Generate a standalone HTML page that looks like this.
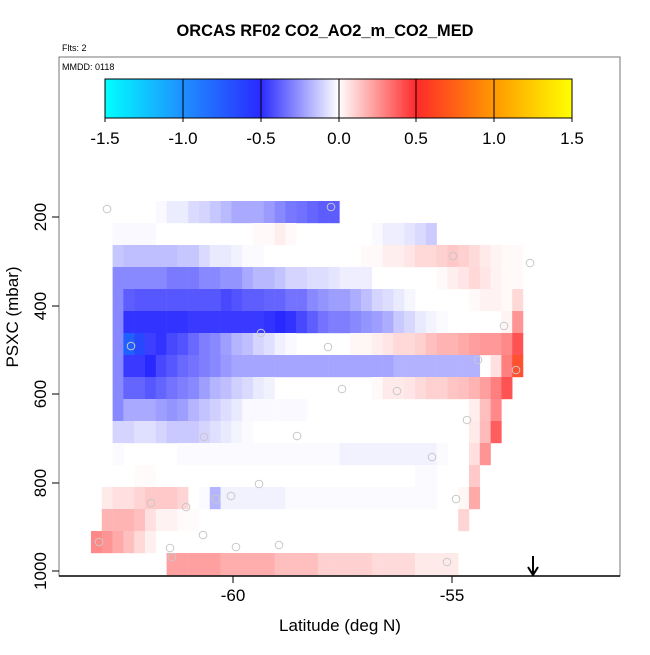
<!DOCTYPE html>
<html><head><meta charset="utf-8"><style>
body{margin:0;background:#fff;}
svg text{font-family:"Liberation Sans",sans-serif;}
</style></head><body>
<svg id="s" width="650" height="650" xmlns="http://www.w3.org/2000/svg">
<defs>
<linearGradient id="cb" x1="0" x2="1" y1="0" y2="0">
<stop offset="0" stop-color="#00ffff"/>
<stop offset="0.1667" stop-color="#1e90ff"/>
<stop offset="0.3333" stop-color="#2a2aff"/>
<stop offset="0.5" stop-color="#ffffff"/>
<stop offset="0.6667" stop-color="#ff2a2a"/>
<stop offset="0.8333" stop-color="#ff9900"/>
<stop offset="1" stop-color="#ffff00"/>
</linearGradient>
</defs>
<rect width="650" height="650" fill="#fff"/>
<g id="cells"></g>
<g id="circ" fill="none" stroke="#c8c8c8" stroke-width="1"></g>
<rect x="59" y="57" width="561" height="519" fill="none" stroke="#777" stroke-width="1"/>
<line x1="59" y1="576" x2="620" y2="576" stroke="#000" stroke-width="1.5"/>
<text x="325" y="36" font-size="16.4" font-weight="bold" text-anchor="middle">ORCAS RF02 CO2_AO2_m_CO2_MED</text>
<text x="62" y="51" font-size="9">Flts: 2</text>
<text x="62" y="70" font-size="9">MMDD: 0118</text>
<rect x="105" y="79" width="467" height="39" fill="url(#cb)" stroke="#000" stroke-width="1"/>
<g stroke="#000" stroke-width="1">
<line x1="183" y1="79" x2="183" y2="118"/><line x1="261" y1="79" x2="261" y2="118"/><line x1="339" y1="79" x2="339" y2="118"/><line x1="416" y1="79" x2="416" y2="118"/><line x1="494" y1="79" x2="494" y2="118"/>
<line x1="105" y1="118" x2="105" y2="122"/><line x1="183" y1="118" x2="183" y2="122"/><line x1="261" y1="118" x2="261" y2="122"/><line x1="339" y1="118" x2="339" y2="122"/><line x1="416" y1="118" x2="416" y2="122"/><line x1="494" y1="118" x2="494" y2="122"/><line x1="572" y1="118" x2="572" y2="122"/>
</g>
<g font-size="17" text-anchor="middle">
<text x="105" y="144">-1.5</text><text x="183" y="144">-1.0</text><text x="261" y="144">-0.5</text><text x="339" y="144">0.0</text><text x="416" y="144">0.5</text><text x="494" y="144">1.0</text><text x="572" y="144">1.5</text>
</g>
<g stroke="#000" stroke-width="1">
<line x1="233" y1="576" x2="233" y2="583"/><line x1="452" y1="576" x2="452" y2="583"/>
<line x1="59" y1="217" x2="52" y2="217"/><line x1="59" y1="306" x2="52" y2="306"/><line x1="59" y1="394" x2="52" y2="394"/><line x1="59" y1="483" x2="52" y2="483"/><line x1="59" y1="571" x2="52" y2="571"/>
</g>
<g font-size="17" text-anchor="middle">
<text x="233" y="601">-60</text><text x="452" y="601">-55</text>
<text transform="translate(46,217) rotate(-90)">200</text>
<text transform="translate(46,306) rotate(-90)">400</text>
<text transform="translate(46,394) rotate(-90)">600</text>
<text transform="translate(46,483) rotate(-90)">800</text>
<text transform="translate(46,571) rotate(-90)">1000</text>
<text x="340" y="631">Latitude (deg N)</text>
<text transform="translate(18,317) rotate(-90)">PSXC (mbar)</text>
</g>
<g stroke="#000" stroke-width="2" fill="none">
<line x1="533" y1="556" x2="533" y2="575"/>
<polyline points="528,567 533,575 538,567"/>
</g>
</svg>
<script>
var rows=[
[[6,.03,-1],[7,.09,-1],[8,.09,-1],[9,.17,-1],[10,.2,-1],[11,.26,-1],[12,.32,-1],[13,.4,-1],[14,.4,-1],[15,.4,-1],[16,.47,-1],[17,.55,-1],[18,.63,-1],[19,.66,-1],[20,.71,-1],[21,.76,-1],[22,.76,-1]],
[[2,.03,-1],[3,.03,-1],[4,.03,-1],[5,.03,-1],[15,.03,1],[16,.03,1],[17,.08,1],[18,.03,1],[26,.03,-1],[27,.08,-1],[28,.08,-1],[29,.12,-1],[30,.17,-1],[31,.24,-1]],
[[2,.26,-1],[3,.3,-1],[4,.3,-1],[5,.3,-1],[6,.3,-1],[7,.3,-1],[8,.26,-1],[9,.26,-1],[10,.17,-1],[11,.1,-1],[12,.1,-1],[13,.06,-1],[14,.02,-1],[15,.02,-1],[25,.03,1],[26,.03,1],[27,.08,1],[28,.08,1],[29,.12,1],[30,.18,1],[31,.18,1],[32,.22,1],[33,.26,1],[34,.22,1],[35,.17,1],[36,.1,1],[37,.05,1],[38,.03,1],[39,.03,1]],
[[2,.55,-1],[3,.55,-1],[4,.55,-1],[5,.55,-1],[6,.55,-1],[7,.62,-1],[8,.62,-1],[9,.62,-1],[10,.55,-1],[11,.55,-1],[12,.5,-1],[13,.5,-1],[14,.4,-1],[15,.33,-1],[16,.33,-1],[17,.28,-1],[18,.2,-1],[19,.2,-1],[20,.16,-1],[21,.16,-1],[22,.12,-1],[23,.08,-1],[24,.08,-1],[25,.08,-1],[32,.03,1],[33,.08,1],[34,.12,1],[35,.18,1],[36,.12,1],[37,.06,1],[38,.03,1],[39,.03,1]],
[[2,.55,-1],[3,.75,-1],[4,.78,-1],[5,.78,-1],[6,.78,-1],[7,.78,-1],[8,.78,-1],[9,.78,-1],[10,.78,-1],[11,.78,-1],[12,.85,-1],[13,.8,-1],[14,.75,-1],[15,.75,-1],[16,.72,-1],[17,.72,-1],[18,.65,-1],[19,.65,-1],[20,.55,-1],[21,.5,-1],[22,.45,-1],[23,.45,-1],[24,.38,-1],[25,.3,-1],[26,.2,-1],[27,.16,-1],[28,.1,-1],[29,.04,-1],[35,.03,1],[36,.06,1],[37,.06,1],[38,.03,1],[39,.18,1]],
[[2,.55,-1],[3,.95,-1],[4,.95,-1],[5,.95,-1],[6,.95,-1],[7,.95,-1],[8,.95,-1],[9,.92,-1],[10,.92,-1],[11,.92,-1],[12,.92,-1],[13,.92,-1],[14,.92,-1],[15,.92,-1],[16,.95,-1],[17,1,-1],[18,.95,-1],[19,.85,-1],[20,.75,-1],[21,.65,-1],[22,.6,-1],[23,.6,-1],[24,.55,-1],[25,.5,-1],[26,.45,-1],[27,.38,-1],[28,.25,-1],[29,.18,-1],[30,.1,-1],[31,.05,-1],[32,.02,-1],[38,.05,1],[39,.5,1]],
[[2,.55,-1],[3,'#2060ff'],[4,'#2848ff'],[5,.9,-1],[6,.95,-1],[7,.85,-1],[8,.8,-1],[9,.7,-1],[10,.6,-1],[11,.55,-1],[12,.45,-1],[13,.35,-1],[14,.3,-1],[15,.2,-1],[16,.15,-1],[17,.07,-1],[18,.03,-1],[24,.04,1],[25,.04,1],[26,.08,1],[27,.12,1],[28,.18,1],[29,.18,1],[30,.22,1],[31,.3,1],[32,.35,1],[33,.35,1],[34,.4,1],[35,.45,1],[36,.48,1],[37,.48,1],[38,.55,1],[39,.8,1]],
[[2,.55,-1],[3,.92,-1],[4,.92,-1],[5,1,-1],[6,.85,-1],[7,.78,-1],[8,.7,-1],[9,.65,-1],[10,.6,-1],[11,.55,-1],[12,.48,-1],[13,.42,-1],[14,.42,-1],[15,.42,-1],[16,.42,-1],[17,.42,-1],[18,.42,-1],[19,.42,-1],[20,.42,-1],[21,.42,-1],[22,.42,-1],[23,.42,-1],[24,.42,-1],[25,.42,-1],[26,.42,-1],[27,.42,-1],[28,.36,-1],[29,.36,-1],[30,.36,-1],[31,.36,-1],[32,.36,-1],[33,.36,-1],[34,.36,-1],[35,.36,-1],[37,.15,1],[38,.6,1],[39,'#ff5030']],
[[2,.55,-1],[3,.72,-1],[4,.72,-1],[5,.78,-1],[6,.72,-1],[7,.65,-1],[8,.6,-1],[9,.55,-1],[10,.45,-1],[11,.35,-1],[12,.3,-1],[13,.22,-1],[14,.17,-1],[15,.1,-1],[16,.06,-1],[26,.03,1],[27,.1,1],[28,.1,1],[29,.12,1],[30,.17,1],[31,.22,1],[32,.22,1],[33,.27,1],[34,.3,1],[35,.35,1],[36,.45,1],[37,.6,1],[38,.8,1]],
[[2,.55,-1],[3,.4,-1],[4,.4,-1],[5,.4,-1],[6,.45,-1],[7,.5,-1],[8,.45,-1],[9,.35,-1],[10,.28,-1],[11,.22,-1],[12,.16,-1],[13,.1,-1],[14,.03,-1],[15,.03,-1],[16,.03,-1],[17,.03,-1],[18,.03,-1],[19,.03,-1],[35,.08,1],[36,.3,1],[37,.55,1]],
[[2,.2,-1],[3,.2,-1],[4,.15,-1],[5,.15,-1],[6,.2,-1],[7,.25,-1],[8,.25,-1],[9,.25,-1],[10,.2,-1],[11,.15,-1],[12,.1,-1],[13,.05,-1],[14,.02,-1],[35,.1,1],[36,.32,1],[37,.75,1]],
[[2,.02,-1],[8,.02,-1],[9,.02,-1],[10,.02,-1],[11,.02,-1],[12,.02,-1],[13,.02,-1],[14,.02,-1],[15,.02,-1],[16,.02,-1],[17,.02,-1],[18,.02,-1],[19,.02,-1],[20,.02,-1],[21,.02,-1],[22,.02,-1],[23,.06,-1],[24,.06,-1],[25,.06,-1],[26,.06,-1],[27,.06,-1],[28,.06,-1],[29,.06,-1],[30,.06,-1],[31,.06,-1],[32,.02,-1],[35,.15,1],[36,.5,1]],
[[4,.02,1],[5,.02,1],[30,.02,-1],[31,.02,-1],[35,.25,1]],
[[1,.1,1],[2,.15,1],[3,.15,1],[4,.2,1],[5,.25,1],[6,.25,1],[7,.25,1],[8,.2,1],[10,.02,-1],[11,.35,-1],[12,.06,-1],[13,.06,-1],[14,.06,-1],[15,.06,-1],[16,.06,-1],[17,.06,-1],[18,.02,-1],[19,.02,-1],[20,.02,-1],[21,.02,-1],[22,.02,-1],[23,.02,-1],[24,.02,-1],[25,.02,-1],[26,.02,-1],[27,.02,-1],[28,.02,-1],[29,.02,-1],[30,.02,-1],[31,.02,-1],[34,.04,1],[35,.4,1]],
[[1,.35,1],[2,.35,1],[3,.35,1],[4,.3,1],[5,.15,1],[6,.06,1],[7,.06,1],[8,.02,1],[9,.02,1],[34,.2,1]],
[[0,.55,1],[1,.5,1],[2,.4,1],[3,.3,1],[4,.18,1],[5,.07,1]],
[[7,.44,1],[8,.44,1],[9,.44,1],[10,.44,1],[11,.44,1],[12,.38,1],[13,.38,1],[14,.38,1],[15,.38,1],[16,.38,1],[17,.3,1],[18,.3,1],[19,.3,1],[20,.3,1],[21,.22,1],[22,.22,1],[23,.22,1],[24,.22,1],[25,.22,1],[26,.17,1],[27,.17,1],[28,.17,1],[29,.17,1],[30,.1,1],[31,.1,1],[32,.1,1],[33,.1,1]]
];
var ns="http://www.w3.org/2000/svg",g=document.getElementById('cells');
function col(t,s){var a=Math.round(255-t*215);return s<0?'rgb('+a+','+a+',255)':'rgb(255,'+a+','+a+')';}
rows.forEach(function(r,i){r.forEach(function(c){var e=document.createElementNS(ns,'rect');
var x=91+c[0]*10.8;e.setAttribute('x',x.toFixed(2));e.setAttribute('y',201+i*22);
e.setAttribute('width','11.05');e.setAttribute('height','22.2');
e.setAttribute('fill',typeof c[1]=='string'?c[1]:col(c[1],c[2]));g.appendChild(e);});});
var pts=[[107,209],[331,207],[453,256],[530,263],[504,326],[261,333],[131,346],[328,347],[478,360],[516,370],[342,389],[397,391],[467,420],[204,437],[297,436],[432,457],[259,484],[151,503],[186,507],[216,499],[231,496],[456,499],[99,542],[170,548],[203,535],[236,547],[279,545],[172,557],[447,562]];
var gc=document.getElementById('circ');
pts.forEach(function(p){var e=document.createElementNS(ns,'circle');e.setAttribute('cx',p[0]);e.setAttribute('cy',p[1]);e.setAttribute('r','3.8');gc.appendChild(e);});
</script>
</body></html>
